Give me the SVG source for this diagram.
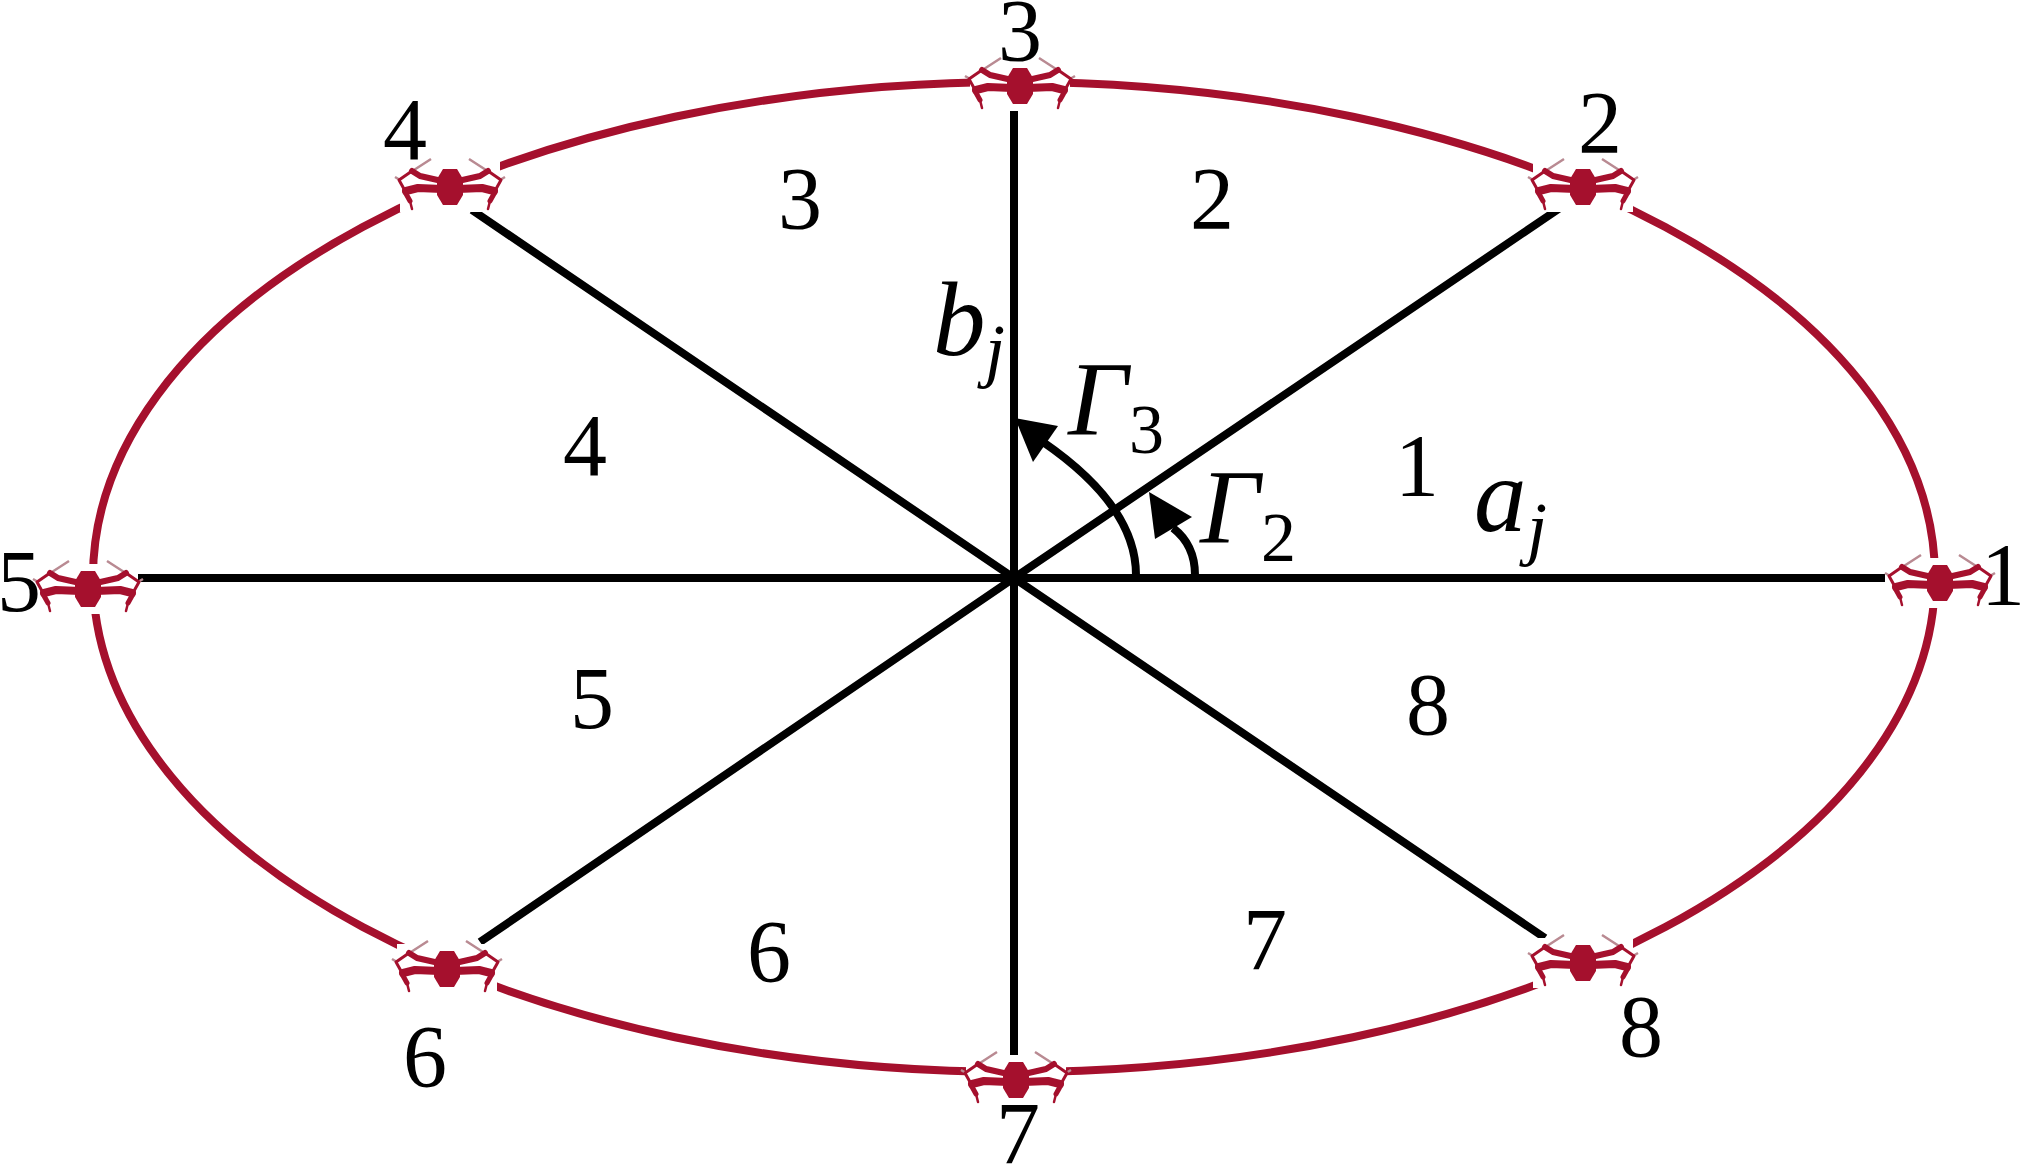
<svg xmlns="http://www.w3.org/2000/svg" xmlns:xlink="http://www.w3.org/1999/xlink" width="2020" height="1168" viewBox="0 0 2020 1168">
<style>
text{font-family:"Liberation Serif","Times New Roman",serif;fill:#000}
.n{font-size:88px;text-anchor:middle}
.v{font-size:105px;font-style:italic}
.s{font-size:70px}
.si{font-size:72px;font-style:italic}
.l{fill:none;stroke:#000;stroke-width:8}
.orbit{fill:none;stroke:#a5102d;stroke-width:8}
.arm{fill:none;stroke:#a5102d;stroke-linejoin:round;stroke-linecap:round}
.tip{fill:none;stroke:#b98a92;stroke-width:2.5}
</style>
<defs>
<g id="half">
<path class="tip" d="M-36 -17L-19 -28M-50 -7L-55 -10"/>
<path class="arm" stroke-width="6" d="M-8 -6L-30 -11L-38 -16"/>
<path class="arm" stroke-width="3" d="M-38 -16L-51 -7L-46 2"/>
<path class="arm" stroke-width="8" d="M-8 2L-32 1L-44 4"/>
<path class="arm" stroke-width="5" d="M-45 5L-40 14"/>
<path class="arm" stroke-width="2.5" d="M-40 14L-38 22"/>
</g>
<g id="drone">
<rect x="-50" y="-25" width="100" height="50" fill="#fff"/>
<use xlink:href="#half" href="#half"/>
<use xlink:href="#half" href="#half" transform="scale(-1,1)"/>
<path fill="#a5102d" d="M-7 -18H7L13 -8V8L7 18H-7L-13 8V-8Z"/>
</g>
</defs>
<rect width="2020" height="1168" fill="#fff"/>
<g id="connectors">
<ellipse class="orbit" cx="1014" cy="577" rx="921" ry="495"/>
<path class="l" d="M138 578H1885M1014 110V1055M1014 578L1560 208M1014 578L472 210M1014 578L480 942M1014 578L1545 938"/>
<path class="l" d="M1136 575Q1136 506 1043 442M1195 575Q1195 545 1173 528"/>
<polygon points="1015,418 1058,426 1033,462"/>
<polygon points="1149,492 1192,517 1155,539"/>
</g>
<g id="node1"><use xlink:href="#drone" href="#drone" x="1940" y="583"/><text class="n" x="2003" y="604">1</text></g>
<g id="node2"><use xlink:href="#drone" href="#drone" x="1583" y="187"/><text class="n" x="1600" y="152">2</text></g>
<g id="node3"><use xlink:href="#drone" href="#drone" x="1020" y="86"/><text class="n" x="1020" y="60">3</text></g>
<g id="node4"><use xlink:href="#drone" href="#drone" x="450" y="187"/><text class="n" x="405" y="159">4</text></g>
<g id="node5"><use xlink:href="#drone" href="#drone" x="88" y="589"/><text class="n" x="19" y="611">5</text></g>
<g id="node6"><use xlink:href="#drone" href="#drone" x="447" y="969"/><text class="n" x="425" y="1086">6</text></g>
<g id="node7"><use xlink:href="#drone" href="#drone" x="1016" y="1080"/><text class="n" x="1018" y="1163">7</text></g>
<g id="node8"><use xlink:href="#drone" href="#drone" x="1583" y="963"/><text class="n" x="1641" y="1056">8</text></g>
<g id="sectors">
<text class="n" x="1417" y="495">1</text>
<text class="n" x="1212" y="228">2</text>
<text class="n" x="800" y="228">3</text>
<text class="n" x="585" y="475">4</text>
<text class="n" x="592" y="728">5</text>
<text class="n" x="769" y="981">6</text>
<text class="n" x="1265" y="969">7</text>
<text class="n" x="1428" y="734">8</text>
</g>
<g id="labels">
<text class="v" x="933" y="355">b</text><text class="si" x="985" y="374">j</text>
<text class="v" x="1474" y="531">a</text><text class="si" x="1527" y="552">j</text>
<text class="v" x="1068" y="435">Γ</text><text class="s" x="1129" y="453">3</text>
<text class="v" x="1200" y="543">Γ</text><text class="s" x="1261" y="561">2</text>
</g>
</svg>
